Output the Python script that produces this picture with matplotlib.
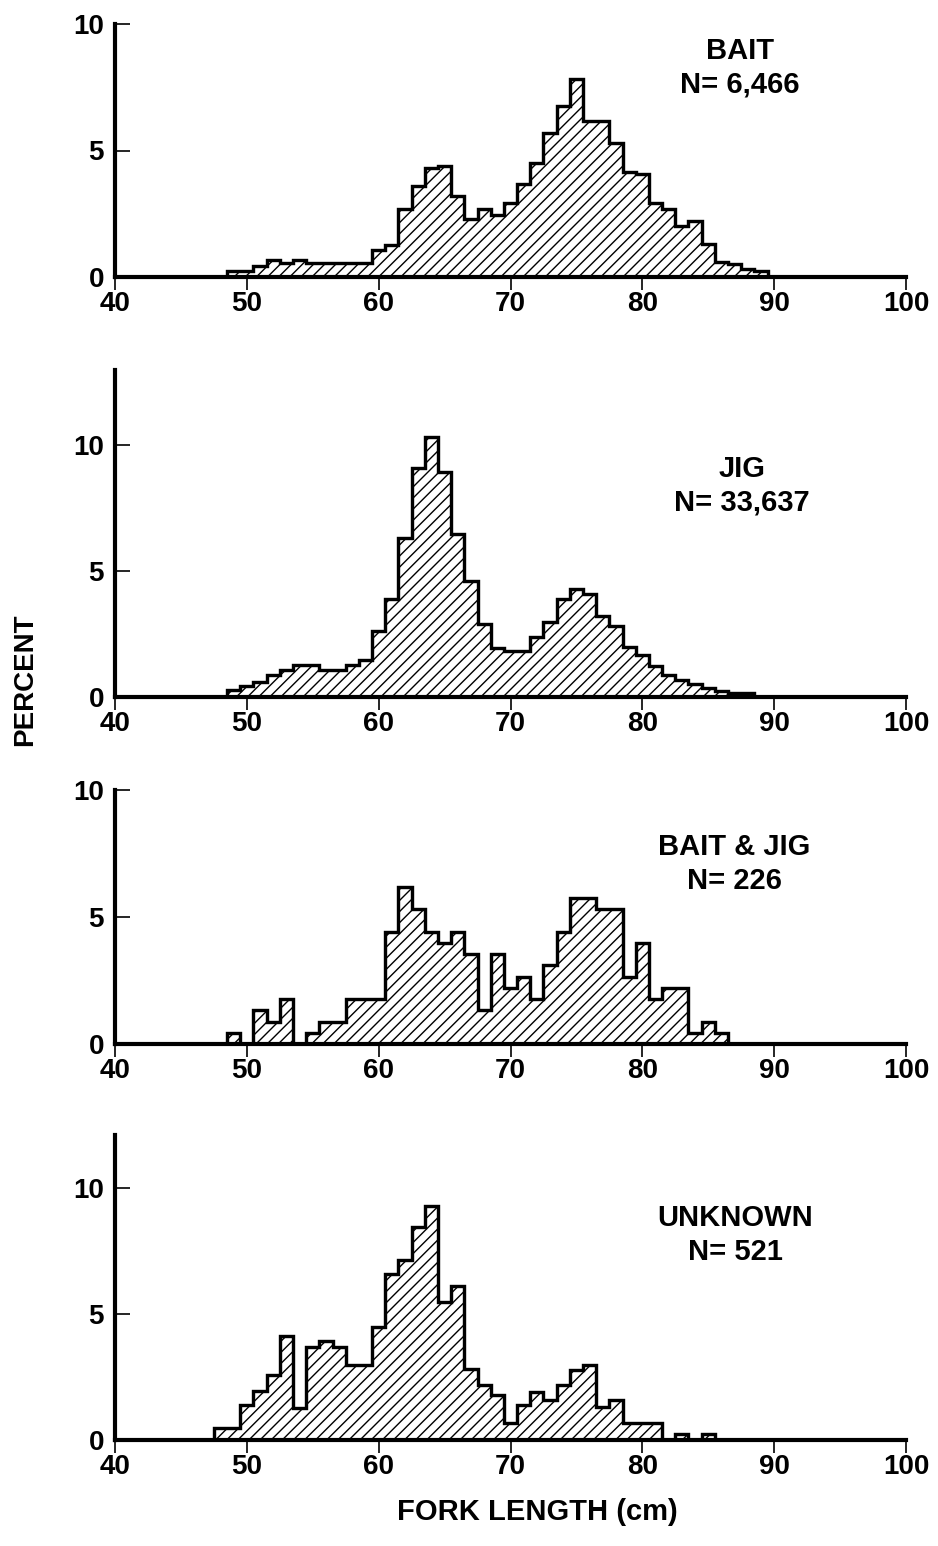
# Fork length frequency by gear type (percent), 1 cm bins
import numpy as np
import matplotlib.pyplot as plt

plt.rcParams['font.family'] = ['Liberation Sans', 'DejaVu Sans']
plt.rcParams['hatch.linewidth'] = 1.0

# --- data (bin centre in cm, percent) ---
bait_len = list(range(49, 90))
bait_pct = [0.24, 0.24, 0.42, 0.69, 0.57, 0.69, 0.57, 0.57, 0.57, 0.57,
            0.57, 1.06, 1.28, 2.70, 3.60, 4.29, 4.39, 3.21, 2.31, 2.68,
            2.44, 2.93, 3.69, 4.49, 5.70, 6.77, 7.82, 6.17, 6.17, 5.28,
            4.16, 4.09, 2.93, 2.70, 2.00, 2.20, 1.32, 0.59, 0.53, 0.33,
            0.24]

jig_len = list(range(49, 89))
jig_pct = [0.29, 0.45, 0.58, 0.89, 1.08, 1.26, 1.26, 1.08, 1.08, 1.28,
           1.48, 2.61, 3.89, 6.34, 9.09, 10.34, 8.96, 6.48, 4.62, 2.90,
           1.94, 1.81, 1.81, 2.40, 3.00, 3.88, 4.28, 4.10, 3.24, 2.84,
           1.98, 1.65, 1.22, 0.86, 0.66, 0.50, 0.37, 0.22, 0.17, 0.17]

both_len = list(range(49, 87))
both_pct = [0.44, 0.00, 1.33, 0.88, 1.77, 0.00, 0.44, 0.88, 0.88, 1.77,
            1.77, 1.77, 4.42, 6.19, 5.31, 4.42, 3.98, 4.42, 3.54, 1.33,
            3.54, 2.21, 2.65, 1.77, 3.10, 4.42, 5.75, 5.75, 5.31, 5.31,
            2.65, 3.98, 1.77, 2.21, 2.21, 0.44, 0.88, 0.44]

unk_len = list(range(48, 86))
unk_pct = [0.48, 0.48, 1.40, 1.96, 2.59, 4.11, 1.27, 3.70, 3.92, 3.70,
           2.99, 2.99, 4.50, 6.59, 7.14, 8.47, 9.30, 5.49, 6.12, 2.82,
           2.20, 1.80, 0.68, 1.38, 1.92, 1.60, 2.19, 2.76, 2.98, 1.32,
           1.59, 0.66, 0.66, 0.66, 0.00, 0.24, 0.00, 0.24]

labels = ['BAIT\nN= 6,466', 'JIG\nN= 33,637', 'BAIT & JIG\nN= 226', 'UNKNOWN\nN= 521']
lengths = [bait_len, jig_len, both_len, unk_len]
percents = [bait_pct, jig_pct, both_pct, unk_pct]
ymax = [10, 13, 10, 12.1]

W, H = 938, 1546
# axes boxes in pixels: (baseline y, top y)
boxes = [(277, 24), (697, 370), (1044, 790), (1440, 1135)]
label_xy = [(740, 68), (742, 486), (734, 864), (735, 1235)]
x0, x1 = 115, 906

fig = plt.figure(figsize=(W / 100, H / 100), dpi=100)

for i in range(4):
    base, top = boxes[i]
    ax = fig.add_axes([x0 / W, 1 - base / H, (x1 - x0) / W, (base - top) / H])
    x = np.array(lengths[i])
    edges = np.append(x - 0.5, x[-1] + 0.5)
    ax.stairs(percents[i], edges, fill=True, facecolor='white',
              edgecolor='black', hatch='///', linewidth=2.2)
    ax.stairs(percents[i], edges, fill=False, color='black', linewidth=2.4)

    ax.set_xlim(40, 100)
    ax.set_ylim(0, ymax[i])
    ax.set_xticks(range(40, 101, 10))
    ax.set_yticks([0, 5, 10])
    for s in ['top', 'right']:
        ax.spines[s].set_visible(False)
    for s in ['left', 'bottom']:
        ax.spines[s].set_linewidth(3)
    ax.tick_params(axis='y', direction='in', length=11, width=1.2,
                   labelsize=20, pad=8)
    ax.tick_params(axis='x', direction='out', length=9, width=1.2,
                   labelsize=20, pad=1)
    for t in ax.get_xticklabels() + ax.get_yticklabels():
        t.set_fontweight('bold')
    ax.patch.set_alpha(0)

    lx, ly = label_xy[i]
    fig.text(lx / W, 1 - ly / H, labels[i], ha='center', va='center',
             fontsize=21, fontweight='bold', linespacing=1.25)

fig.text(25 / W, 1 - 680 / H, 'PERCENT', rotation=90, ha='center',
         va='center', fontsize=20, fontweight='bold')
fig.text(537 / W, 1 - 1512 / H, 'FORK LENGTH (cm)', ha='center',
         va='center', fontsize=21, fontweight='bold')

fig.savefig('out.png', dpi=100)
